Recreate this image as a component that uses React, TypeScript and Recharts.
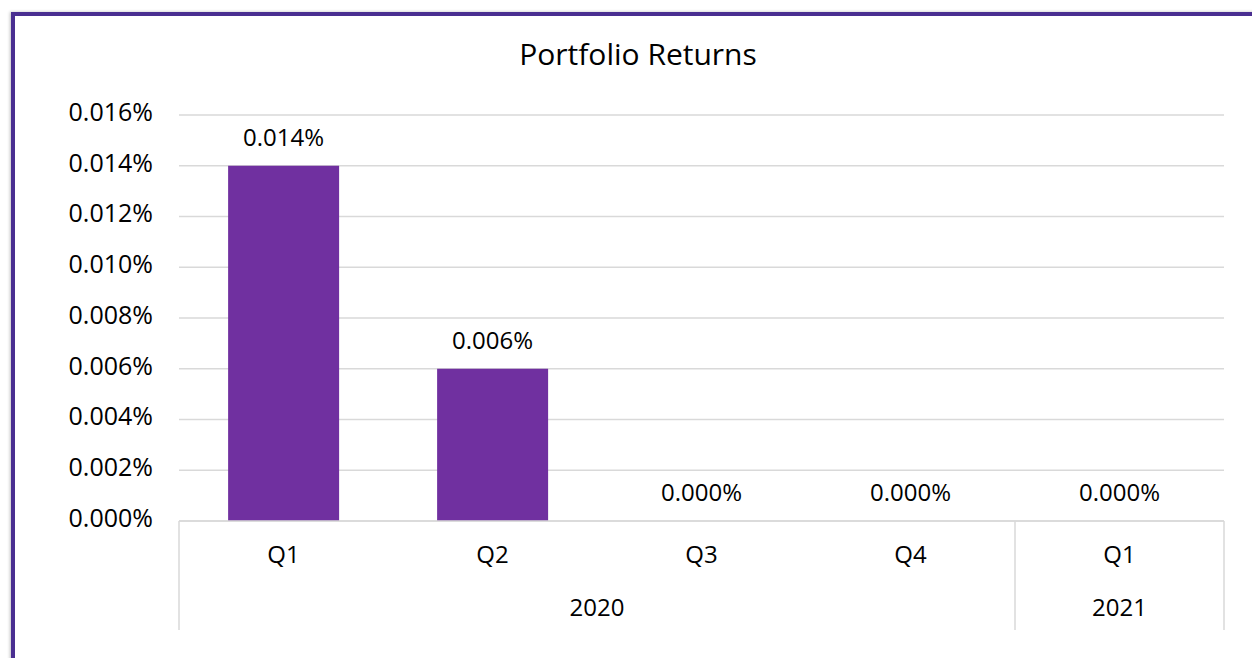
import { ComposedChart, Bar, Line, XAxis, YAxis, CartesianGrid, LabelList } from "recharts";

// Chart data
const quarters = ["Q1", "Q2", "Q3", "Q4", "Q1"];
const years = ["2020", "2020", "2020", "2020", "2021"];
const returns = [0.014, 0.006, 0, 0, 0];
const yTicks = [0, 0.002, 0.004, 0.006, 0.008, 0.01, 0.012, 0.014, 0.016];

const chartData = quarters.map((q, i) => ({
  key: `${years[i]} ${q}`,
  quarter: q,
  year: years[i],
  value: returns[i],
}));

const FONT = "'Open Sans', 'Noto Sans', sans-serif";
const GRID = "#d9d9d9";
const BAR = "#7030a0";
const QUARTER_AXIS_H = 52;
const YEAR_AXIS_H = 57;
const TICK_GAP = 25; // tickSize 6 + tickMargin 19

const fmt = (v: number) => `${Number(v).toFixed(3)}%`;

function YearTick(props: any) {
  const { x, y, payload, index } = props;
  const half = payload?.offset ?? 104.5;
  const i = index as number;
  const isStart = i === 0 || years[i] !== years[i - 1];
  const isLast = i === years.length - 1;
  const top = y - TICK_GAP - QUARTER_AXIS_H;
  const bottom = top + QUARTER_AXIS_H + YEAR_AXIS_H;
  const left = x - half;

  let groupLen = 0;
  if (isStart) {
    while (i + groupLen < years.length && years[i + groupLen] === years[i]) groupLen++;
  }

  return (
    <g>
      {isStart && <line x1={left} x2={left} y1={top} y2={bottom} stroke={GRID} strokeWidth={1.5} />}
      {isLast && <line x1={x + half} x2={x + half} y1={top} y2={bottom} stroke={GRID} strokeWidth={1.5} />}
      {isStart && (
        <text
          x={left + groupLen * half}
          y={y + 1}
          dy="0.71em"
          textAnchor="middle"
          fontSize={24}
          fontFamily={FONT}
          fill="#000"
        >
          {years[i]}
        </text>
      )}
    </g>
  );
}

export default function App() {
  return (
    <div
      style={{
        position: "fixed",
        left: 0,
        top: 0,
        width: 1252,
        height: 658,
        overflow: "hidden",
        background: "#fff",
        fontFamily: FONT,
      }}
    >
      <div
        style={{
          position: "absolute",
          left: 11,
          top: 12,
          width: 1320,
          height: 720,
          border: "4px solid #4a2f91",
          boxShadow: "-1px 0 3px rgba(0,0,0,0.25)",
        }}
      />
      <div
        style={{
          position: "absolute",
          left: 0,
          top: 39,
          width: 1276,
          textAlign: "center",
          fontSize: 30,
          lineHeight: 1,
          color: "#000",
        }}
      >
        Portfolio Returns
      </div>
      <div style={{ position: "absolute", left: 0, top: 0 }}>
        <ComposedChart
          width={1252}
          height={658}
          data={chartData}
          margin={{ top: 115, right: 28, bottom: 28, left: 79 }}
          barCategoryGap="23.5%"
        >
          <CartesianGrid vertical={false} stroke={GRID} strokeWidth={1.5} />
          <YAxis
            width={100}
            domain={[0, 0.016]}
            ticks={yTicks}
            axisLine={false}
            tickLine={false}
            tickMargin={20}
            tickFormatter={fmt}
            tick={{ fontSize: 25, fontFamily: FONT, fill: "#000", dy: -3 }}
          />
          <XAxis
            dataKey="key"
            height={QUARTER_AXIS_H}
            interval={0}
            tickLine={false}
            tickMargin={19}
            axisLine={{ stroke: GRID, strokeWidth: 1.5 }}
            tickFormatter={(_v: string, i: number) => quarters[i]}
            tick={{ fontSize: 24, fontFamily: FONT, fill: "#000" }}
          />
          <XAxis
            xAxisId="year"
            dataKey="key"
            height={YEAR_AXIS_H}
            interval={0}
            axisLine={false}
            tickLine={false}
            tickMargin={19}
            tick={<YearTick />}
          />
          <Bar dataKey="value" fill={BAR} isAnimationActive={false} />
          {/* invisible line carrying the data labels, so zero values get one too */}
          <Line
            dataKey="value"
            stroke="none"
            dot={false}
            activeDot={false}
            legendType="none"
            isAnimationActive={false}
          >
            <LabelList
              dataKey="value"
              position="top"
              offset={20}
              formatter={(v: any) => fmt(v)}
              style={{ fontSize: 24, fontFamily: FONT, fill: "#000" }}
            />
          </Line>
        </ComposedChart>
      </div>
    </div>
  );
}
